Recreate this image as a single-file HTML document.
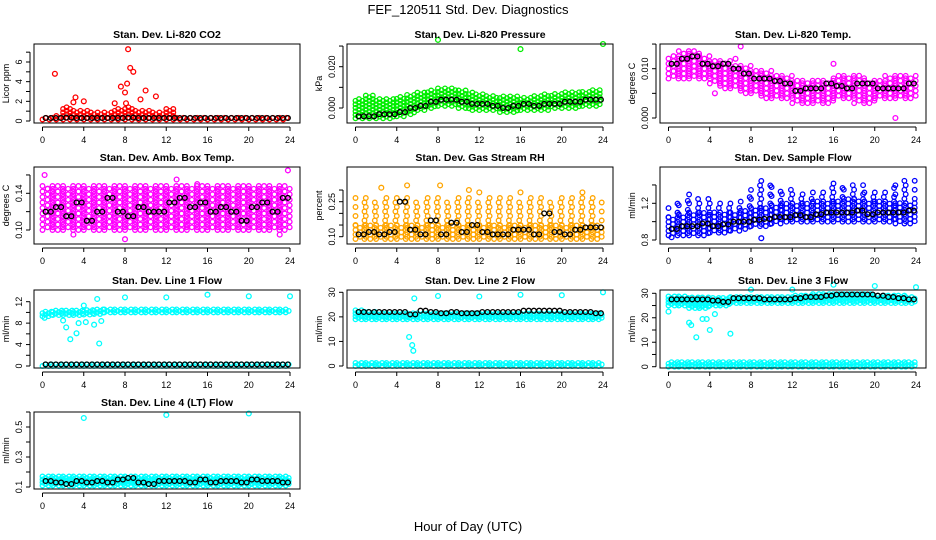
<!DOCTYPE html>
<html><head><meta charset="utf-8">
<style>
html,body{margin:0;padding:0;background:#fff;}
svg{display:block;font-family:"Liberation Sans",sans-serif;}
</style></head>
<body>
<svg id="chart" width="936" height="540" viewBox="0 0 936 540">
<text x="468" y="14" text-anchor="middle" font-size="13">FEF_120511  Std. Dev. Diagnostics</text>
<text x="468" y="531" text-anchor="middle" font-size="13">Hour of Day (UTC)</text>
</svg>
<script>
// ---- data (hourly segments 0..23) ----
const hourTicks = [0,4,8,12,16,20,24];
const co2Lo = [0.15,0.15,0.15,0.15,0.15,0.15,0.15,0.15,0.15,0.15,0.15,0.15,0.15,0.15,0.15,0.15,0.15,0.15,0.15,0.15,0.15,0.15,0.15,0.15];
const co2Hi = [0.4,0.6,1.5,1.2,1.1,1.0,1.0,1.3,1.5,1.2,1.2,1.0,1.3,0.4,0.4,0.4,0.4,0.4,0.4,0.4,0.4,0.4,0.4,0.4];
const co2Blk = [0.3,0.3,0.35,0.3,0.3,0.3,0.3,0.3,0.35,0.3,0.3,0.3,0.3,0.3,0.3,0.3,0.3,0.3,0.3,0.3,0.3,0.3,0.3,0.3];
const co2Out = [[1.2,4.8],[3,1.9],[3.2,2.4],[4,2.0],[7,1.8],[7.6,3.5],[8.1,1.8],[8,2.9],[8.2,3.8],[8.3,7.3],[8.5,5.4],[8.8,5.0],[9.5,2.2],[10,3.1],[11,2.5]];
const presLo = [-0.005,-0.005,-0.005,-0.005,-0.004,-0.003,-0.001,0,0.001,0.001,0,-0.001,-0.001,-0.001,-0.002,-0.002,-0.001,-0.001,-0.001,0,0,0,0.001,0.001];
const presHi = [0.005,0.006,0.005,0.005,0.006,0.007,0.008,0.009,0.010,0.010,0.009,0.008,0.007,0.006,0.006,0.006,0.005,0.006,0.007,0.007,0.008,0.008,0.008,0.009];
const presBlk = [-0.004,-0.004,-0.003,-0.003,-0.002,0,0.001,0.003,0.004,0.004,0.003,0.002,0.002,0.001,0,0.001,0.002,0.001,0.002,0.002,0.003,0.003,0.004,0.004];
const presOut = [[8,0.033],[16,0.0285],[24,0.031]];
const tempLo = [0.008,0.008,0.008,0.008,0.007,0.006,0.006,0.005,0.005,0.004,0.004,0.004,0.003,0.003,0.003,0.003,0.004,0.004,0.003,0.003,0.004,0.004,0.004,0.004];
const tempHi = [0.013,0.014,0.014,0.013,0.012,0.012,0.011,0.011,0.010,0.010,0.009,0.009,0.008,0.008,0.008,0.008,0.009,0.009,0.009,0.008,0.008,0.009,0.009,0.009];
const tempBlk = [0.011,0.012,0.0125,0.011,0.0105,0.011,0.010,0.009,0.008,0.008,0.0075,0.007,0.0055,0.006,0.006,0.007,0.0065,0.006,0.007,0.007,0.006,0.006,0.006,0.007];
const tempOut = [[6.5,0.012],[7,0.0145],[4.5,0.005],[16,0.011],[22,0.0],[20,0.004],[2.5,0.0105]];
const ambLo = [0.10,0.10,0.10,0.10,0.10,0.10,0.10,0.10,0.10,0.10,0.10,0.10,0.10,0.10,0.10,0.10,0.10,0.10,0.10,0.10,0.10,0.10,0.10,0.10];
const ambHi = [0.15,0.15,0.15,0.15,0.15,0.15,0.15,0.15,0.15,0.15,0.15,0.15,0.15,0.15,0.15,0.15,0.15,0.15,0.15,0.15,0.15,0.15,0.15,0.15];
const ambBlk = [0.12,0.125,0.115,0.13,0.11,0.12,0.135,0.12,0.115,0.125,0.12,0.12,0.13,0.135,0.125,0.13,0.12,0.125,0.12,0.11,0.125,0.13,0.12,0.135];
const ambOut = [[0.2,0.16],[0.5,0.145],[8,0.09],[13,0.155],[15,0.15],[23,0.095],[23.8,0.165],[14,0.105],[3,0.095]];
const rhLo = [0.09,0.09,0.09,0.09,0.09,0.09,0.09,0.09,0.09,0.09,0.09,0.09,0.09,0.09,0.09,0.09,0.09,0.09,0.09,0.09,0.09,0.09,0.09,0.09];
const rhHi = [0.15,0.15,0.15,0.15,0.15,0.15,0.15,0.15,0.15,0.15,0.15,0.15,0.15,0.15,0.15,0.15,0.15,0.15,0.15,0.15,0.15,0.15,0.15,0.15];
const rhTop = [0.27,0.27,0.26,0.27,0.27,0.27,0.26,0.27,0.27,0.26,0.27,0.27,0.26,0.27,0.27,0.27,0.26,0.27,0.27,0.26,0.27,0.27,0.27,0.27];
const rhBlk = [0.11,0.12,0.11,0.12,0.25,0.13,0.11,0.17,0.11,0.16,0.12,0.15,0.12,0.11,0.11,0.13,0.13,0.11,0.20,0.12,0.11,0.13,0.14,0.14];
const rhOut = [[2.5,0.31],[5,0.32],[8.2,0.32],[11,0.3],[12,0.29],[22,0.29],[16,0.29]];
const flowLo = [0.85,0.85,0.85,0.85,0.88,0.88,0.9,0.92,0.95,0.95,0.98,1.0,1.0,1.0,1.0,1.0,1.0,1.0,1.0,1.0,1.0,1.0,0.98,0.98];
const flowHi = [1.05,1.08,1.1,1.1,1.1,1.1,1.1,1.12,1.15,1.15,1.18,1.2,1.2,1.2,1.22,1.22,1.22,1.25,1.25,1.22,1.22,1.22,1.2,1.2];
const flowTop = [1.2,1.25,1.3,1.25,1.2,1.2,1.2,1.3,1.4,1.45,1.4,1.35,1.3,1.3,1.35,1.4,1.45,1.4,1.4,1.35,1.35,1.4,1.45,1.45];
const flowBlk = [0.92,0.95,0.95,0.98,0.95,0.97,1.0,1.0,1.02,1.03,1.05,1.05,1.07,1.05,1.08,1.1,1.1,1.1,1.12,1.08,1.1,1.1,1.1,1.12];
const flowOut = [[9,0.82],[0.3,0.83]];
const l1Lo = [9.3,9.5,9.5,9.5,9.6,9.7,10,10,10,10,10,10,10,10,10,10,10,10,10,10,10,10,10,10];
const l1Hi = [10.3,10.5,10.5,10.5,10.6,10.6,10.7,10.7,10.7,10.8,10.8,10.8,10.8,10.8,10.8,10.8,10.8,10.8,10.8,10.8,10.8,10.8,10.8,10.8];
const l1Base = [0.5,0.5,0.5,0.5,0.5,0.5,0.5,0.5,0.5,0.5,0.5,0.5,0.5,0.5,0.5,0.5,0.5,0.5,0.5,0.5,0.5,0.5,0.5,0.5];
const l1Blk = [0.3,0.3,0.3,0.3,0.3,0.3,0.3,0.3,0.3,0.3,0.3,0.3,0.3,0.3,0.3,0.3,0.3,0.3,0.3,0.3,0.3,0.3,0.3,0.3];
const l1Out = [[0.2,9],[2,8.5],[2.3,7.2],[2.7,5],[3.3,6.1],[3.5,8],[4,11.3],[4.2,8.2],[5,7.7],[5.5,4.2],[5.3,12.5],[5.7,8.4],[8,12.8],[12,12.8],[16,13.3],[20,13],[24,13]];
const l2Lo = [19,19,19,19,19,19,19,19,19,19,19,19,19,19,19,19,19,19,19,19,19,19,19,19];
const l2Hi = [23,22.5,22,22,22,21.5,22,22,21.5,21.5,21.5,21.5,21.5,21.5,21.5,21.5,21.5,21.5,21.5,21.5,21.5,21.5,21.5,21.5];
const l2Base = [1.5,1.5,1.5,1.5,1.5,1.5,1.5,1.5,1.5,1.5,1.5,1.5,1.5,1.5,1.5,1.5,1.5,1.5,1.5,1.5,1.5,1.5,1.5,1.5];
const l2Blk = [22,22,22,22,22,21,22.5,22,21.5,22,21.5,21.5,22,22,22,22,22.5,22.5,22.5,22.5,22,22,22,21.5];
const l2Out = [[5.2,11.8],[5.5,8.5],[5.6,6.2],[5.7,27.5],[8,28.5],[12,28.3],[16,29],[20,28.8],[24,30]];
const l3Lo = [25,25,24,24,25,25,26,26,26,26,26,26,26,26,26,26,26,26,26,26,26,26,26,26];
const l3Hi = [29,29,28.5,28.5,28.5,28.5,29,29,29,29,29,29,29.5,29.5,30,30,30,30,30,30,29.5,29.5,29.5,29];
const l3Base = [1.8,1.8,1.8,1.8,1.8,1.8,1.8,1.8,1.8,1.8,1.8,1.8,1.8,1.8,1.8,1.8,1.8,1.8,1.8,1.8,1.8,1.8,1.8,1.8];
const l3Blk = [27.5,27.5,27.5,27.5,27,26.5,28,28,28,27.5,27.5,27.5,28,28.5,28.5,29,29.5,29.5,29.5,29.5,29,28.5,28,27.5];
const l3Out = [[0,22.5],[2,18],[2.2,17],[2.7,12],[3,24],[3.3,19.5],[3.7,19.5],[4,15],[4.5,21.5],[6,13.5],[8,31.5],[12,31.5],[16,33.5],[20,33],[24,32.5]];
const l4Lo = [0.11,0.11,0.11,0.11,0.11,0.11,0.11,0.11,0.11,0.11,0.11,0.11,0.11,0.11,0.11,0.11,0.11,0.11,0.11,0.11,0.11,0.11,0.11,0.11];
const l4Hi = [0.17,0.17,0.17,0.17,0.17,0.17,0.17,0.17,0.17,0.17,0.17,0.17,0.17,0.17,0.17,0.17,0.17,0.17,0.17,0.17,0.17,0.17,0.17,0.17];
const l4Blk = [0.14,0.13,0.12,0.14,0.13,0.14,0.13,0.15,0.16,0.13,0.12,0.14,0.14,0.14,0.13,0.15,0.13,0.14,0.14,0.13,0.15,0.14,0.14,0.13];
const l4Out = [[4,0.56],[12,0.58],[20,0.59]];
const zeroBase = [0,0,0,0,0,0,0,0,0,0,0,0,0,0,0,0,0,0,0,0,0,0,0,0];

const NS = "http://www.w3.org/2000/svg";
const svg = document.getElementById('chart');
function mk(tag, attrs, parent){ const e=document.createElementNS(NS,tag); for(const k in attrs) e.setAttribute(k,attrs[k]); (parent||svg).appendChild(e); return e; }

const panels = [
 {name:'co2',title:'Stan. Dev. Li-820 CO2',ylab:'Licor ppm',col:0,row:0,color:'#ff0000',a:[0,121,6,62],ticks:[0,1,2,3,4,5,6,7],lab:[0,2,4,6],fmt:v=>String(v),lo:co2Lo,hi:co2Hi,blk:co2Blk,out:co2Out,st:[3.5,3.5]},
 {name:'pressure',title:'Stan. Dev. Li-820 Pressure',ylab:'kPa',col:1,row:0,color:'#00ee00',a:[0,108,0.02,66.7],ticks:[0,0.01,0.02,0.03],lab:[0,0.02],fmt:v=>v.toFixed(3),lo:presLo,hi:presHi,blk:presBlk,out:presOut,st:[3.5,3.5]},
 {name:'temp',title:'Stan. Dev. Li-820 Temp.',ylab:'degrees C',col:2,row:0,color:'#ff00ff',a:[0,118,0.01,68.7],ticks:[0,0.005,0.01,0.015],lab:[0,0.01],fmt:v=>v.toFixed(3),lo:tempLo,hi:tempHi,blk:tempBlk,out:tempOut,st:[5,5]},
 {name:'amb-temp',title:'Stan. Dev. Amb. Box Temp.',ylab:'degrees C',col:0,row:1,color:'#ff00ff',a:[0.10,230,0.14,193.3],ticks:[0.10,0.12,0.14,0.16],lab:[0.10,0.14],fmt:v=>v.toFixed(2),lo:ambLo,hi:ambHi,blk:ambBlk,out:ambOut,st:[5,5.5]},
 {name:'rh',title:'Stan. Dev. Gas Stream RH',ylab:'percent',col:1,row:1,color:'#ffa500',a:[0.10,236.7,0.25,201.7],ticks:[0.10,0.15,0.20,0.25,0.30],lab:[0.10,0.25],fmt:v=>v.toFixed(2),lo:rhLo,hi:rhHi,top:rhTop,blk:rhBlk,out:rhOut,st:[4.5,4.5],st2:[9,9]},
 {name:'sample-flow',title:'Stan. Dev. Sample Flow',ylab:'ml/min',col:2,row:1,color:'#0000ff',a:[0.8,240,1.2,203.3],ticks:[0.8,1.0,1.2,1.4],lab:[0.8,1.2],fmt:v=>v.toFixed(1),lo:flowLo,hi:flowHi,top:flowTop,blk:flowBlk,out:flowOut,st:[4.5,4.5],st2:[9,9]},
 {name:'line1',title:'Stan. Dev. Line 1 Flow',ylab:'ml/min',col:0,row:2,color:'#00ffff',a:[0,366,12,301.7],ticks:[0,2,4,6,8,10,12],lab:[0,4,8,12],fmt:v=>String(v),lo:l1Lo,hi:l1Hi,base:l1Base,blk:l1Blk,out:l1Out,st:[3,3]},
 {name:'line2',title:'Stan. Dev. Line 2 Flow',ylab:'ml/min',col:1,row:2,color:'#00ffff',a:[0,366,30,292.3],ticks:[0,10,20,30],lab:[0,10,20,30],fmt:v=>String(v),lo:l2Lo,hi:l2Hi,base:l2Base,blk:l2Blk,out:l2Out,st:[3,3]},
 {name:'line3',title:'Stan. Dev. Line 3 Flow',ylab:'ml/min',col:2,row:2,color:'#00ffff',a:[0,366.7,30,293.3],ticks:[0,5,10,15,20,25,30,35],lab:[0,10,20,30],fmt:v=>String(v),lo:l3Lo,hi:l3Hi,base:l3Base,blk:l3Blk,out:l3Out,st:[3,3]},
 {name:'line4',title:'Stan. Dev. Line 4 (LT) Flow',ylab:'ml/min',col:0,row:3,color:'#00ffff',a:[0.1,487,0.5,427],ticks:[0.1,0.2,0.3,0.4,0.5,0.6],lab:[0.1,0.3,0.5],fmt:v=>String(v),lo:l4Lo,hi:l4Hi,blk:l4Blk,out:l4Out,st:[3,3]}
];
const colLeft=[34,347,660], rowTop=[44,167,290,412], rowBot=[123,244,368,489], boxW=266;

panels.forEach(p=>{
  const L=colLeft[p.col], T=rowTop[p.row], B=rowBot[p.row], R=L+boxW;
  const xs = h => L+8.5 + h*(247.5/24);
  const ys = v => p.a[1] + (v-p.a[0])*(p.a[3]-p.a[1])/(p.a[2]-p.a[0]);
  const g = mk('g',{});
  
  
  const marks = mk('g',{fill:'none','stroke-width':1.3},g);
  function dot(h,v,color,nm){
    const c=mk('circle',{cx:xs(h).toFixed(1),cy:ys(v).toFixed(1),r:2.4,stroke:color},marks);
    
    
  }
  let k=0;
  function band(loArr,hiArr,stepX,stepY,nm){
    for(let h=0;h<24;h++){
      const y1=ys(hiArr[h]), y0=ys(loArr[h]);
      const xa=xs(h), xb=xs(h+1);
      for(let x=xa;x<xb-0.1;x+=stepX){
        const off=(k%2)*stepY/2;
        for(let y=y0-off;y>=y1-0.1;y-=stepY){
          const c=mk('circle',{cx:x.toFixed(1),cy:y.toFixed(1),r:2.3,stroke:p.color},marks);
          
          
        }
        k++;
      }
    }
  }
  band(p.lo,p.hi,p.st[0],p.st[1],p.name+'-cloud');
  if(p.top) band(p.hi,p.top,p.st2[0],p.st2[1],p.name+'-cloud-upper');
  if(p.base) band(zeroBase,p.base,3,3,p.name+'-cloud-base');
  p.out.forEach(o=>dot(o[0],o[1],p.color,p.name+'-outlier'));
  p.blk.forEach((v,i)=>{ dot(i+0.3,v,'#000',p.name+'-hourly-point'); dot(i+0.8,v,'#000',p.name+'-hourly-point'); });
  const box=mk('rect',{x:L,y:T,width:boxW,height:B-T,fill:'none',stroke:'#000','stroke-width':1},g);
  
  
  const t=mk('text',{x:L+boxW/2,y:T-6,'text-anchor':'middle','font-size':10.5,'font-weight':'bold'},g);
  t.textContent=p.title;
  
  
  const xa=mk('g',{},g);
  
  
  mk('line',{x1:xs(0),x2:xs(24),y1:B+4,y2:B+4,stroke:'#000'},xa);
  hourTicks.forEach(h=>{
    mk('line',{x1:xs(h),x2:xs(h),y1:B+4,y2:B+8,stroke:'#000'},xa);
    const tl=mk('text',{x:xs(h),y:B+20,'text-anchor':'middle','font-size':9},xa);
    tl.textContent=h;
    
    
  });
  const ya=mk('g',{},g);
  
  
  const yt=p.ticks.map(ys).filter(y=>y>=T-1&&y<=B+1);
  mk('line',{x1:L-4,x2:L-4,y1:Math.min(...yt),y2:Math.max(...yt),stroke:'#000'},ya);
  p.ticks.forEach(v=>{ const y=ys(v); if(y<T-1||y>B+1) return; mk('line',{x1:L-8,x2:L-4,y1:y,y2:y,stroke:'#000'},ya); });
  p.lab.forEach(v=>{
    const y=ys(v);
    const tl=mk('text',{x:L-12,y:y,'text-anchor':'middle','font-size':9,transform:`rotate(-90 ${L-12} ${y})`},ya);
    tl.textContent=p.fmt(v);
    
    
  });
  const yl=mk('text',{x:L-25,y:(T+B)/2,'text-anchor':'middle','font-size':9,transform:`rotate(-90 ${L-25} ${(T+B)/2})`},g);
  yl.textContent=p.ylab;
  
  
});
</script>
</body></html>
